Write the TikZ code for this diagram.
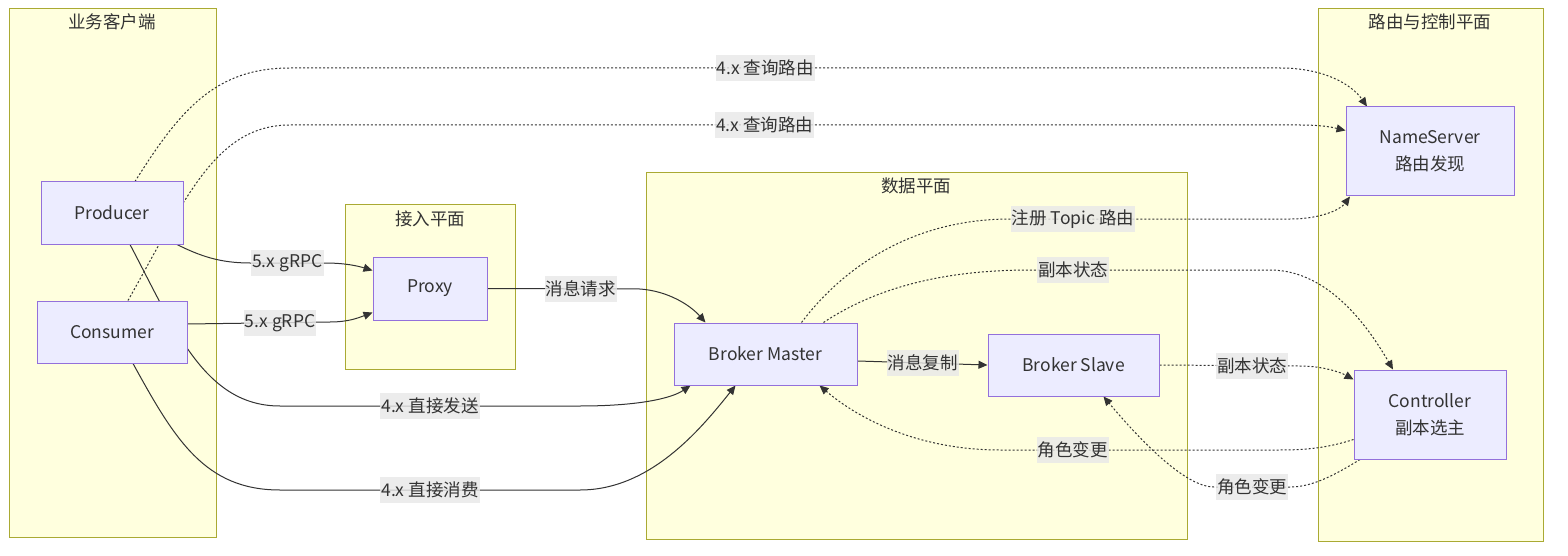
\documentclass[tikz,border=0pt]{standalone}
\usepackage{fontspec}
\setmainfont{Noto Sans CJK SC}
\usepackage{xcolor}
\usepackage{tikz}
\usetikzlibrary{arrows.meta}
\definecolor{clfill}{HTML}{FFFFDE}
\definecolor{clline}{HTML}{AAAA33}
\definecolor{ndfill}{HTML}{ECECFF}
\definecolor{ndline}{HTML}{9370DB}
\definecolor{ink}{HTML}{333333}
\definecolor{lblbg}{HTML}{E8E8E8}
\pgfdeclarelayer{bg}
\pgfdeclarelayer{edges}
\pgfsetlayers{bg,edges,main}

\begin{document}
\begin{tikzpicture}[x=1pt,y=-1pt,
  font=\fontsize{17.5}{27}\selectfont, text=ink,
  cluster/.style={draw=clline,fill=clfill,line width=1pt},
  cltitle/.style={inner sep=0pt},
  box/.style={draw=ndline,fill=ndfill,line width=1pt,align=center,minimum height=62pt,inner sep=0pt},
  link/.style={draw=ink,line width=1pt,-{Triangle[length=9pt,width=8pt]}},
  dotlink/.style={link,dash pattern=on 2pt off 2pt},
  lbl/.style={fill=lblbg,fill opacity=0.8,text opacity=1,inner xsep=1pt,inner ysep=0pt,minimum height=26pt}]
  \useasboundingbox (0,0) rectangle (1568,556);
  % subgraph frames
  \begin{pgfonlayer}{bg}
    \fill[white] (0,0) rectangle (1568,556);
    \draw[cluster] (9,9) rectangle (216,537);
    \draw[cluster] (345,205) rectangle (515,369);
    \draw[cluster] (646,173) rectangle (1187,539);
    \draw[cluster] (1318,9) rectangle (1543,541);
  \end{pgfonlayer}
  \node[cltitle] (clientT) at (112,22) {业务客户端};
  \node[cltitle] (accessT) at (430,219) {接入平面};
  \node[cltitle] (dataT) at (916,186) {数据平面};
  \node[cltitle] (routeT) at (1430,22) {路由与控制平面};
  % components
  \node[box,minimum width=142pt] (prod) at (112,213) {Producer};
  \node[box,minimum width=150pt] (cons) at (112,332) {Consumer};
  \node[box,minimum width=114pt,minimum height=63pt] (proxy) at (430,288.5) {Proxy};
  \node[box,minimum width=183pt] (master) at (765.5,354) {Broker Master};
  \node[box,minimum width=171pt] (slave) at (1073.5,365) {Broker Slave};
  \node[box,minimum width=168pt,minimum height=89pt] (ns) at (1430,151.5) {NameServer\\路由发现};
  \node[box,minimum width=152pt,minimum height=89pt] (ctrl) at (1430,414.5) {Controller\\副本选主};
  \begin{pgfonlayer}{edges}
    % 4.x route lookup
    \draw[dotlink] ([xshift=23pt]prod.north) .. controls (180,110) and (215,68) .. (290,68)
      -- node[lbl,pos=0.48]{4.x 查询路由} (1280,68) .. controls (1325,68) and (1352,85) .. ([xshift=-63pt]ns.north);
    \draw[dotlink] ([xshift=16pt]cons.north) .. controls (185,200) and (215,125) .. (290,125)
      -- node[lbl,pos=0.47]{4.x 查询路由} (1300,125) .. controls (1325,125) and (1335,128) .. ([yshift=21pt]ns.west);
    % 5.x through proxy
    \draw[link] ([xshift=65pt]prod.south) .. controls (200,256) and (220,263) .. (250,263)
      -- node[lbl]{5.x gRPC} (325,263) .. controls (345,263) and (358,266) .. ([yshift=18pt]proxy.west);
    \draw[link] ([yshift=8pt]cons.east) -- node[lbl,pos=0.65]{5.x gRPC} (330,322)
      .. controls (348,322) and (358,318) .. ([yshift=-24pt]proxy.west);
    \draw[link] (proxy.east) -- node[lbl,pos=0.61]{消息请求} (640,289)
      .. controls (668,291) and (690,305) .. ([xshift=-60pt]master.north);
    % 4.x direct
    \draw[link] ([xshift=18pt]prod.south) .. controls (175,330) and (205,406) .. (280,406)
      -- node[lbl]{4.x 直接发送} (580,406) .. controls (640,406) and (672,398) .. ([xshift=-75pt]master.south);
    \draw[link] ([xshift=21pt]cons.south) .. controls (175,440) and (205,490) .. (280,490)
      -- node[lbl]{4.x 直接消费} (580,490) .. controls (650,490) and (700,430) .. ([xshift=-30pt]master.south);
    % replication
    \draw[link] ([yshift=-7pt]master.east) -- node[lbl]{消息复制} (slave.west);
    % register / replica state
    \draw[dotlink] ([xshift=36pt]master.north) .. controls (845,265) and (915,219) .. (1010,219)
      -- node[lbl,pos=0.225]{注册 Topic 路由} (1290,219) .. controls (1320,219) and (1340,210) .. ([xshift=-80pt]ns.south);
    \draw[dotlink] ([xshift=58pt]master.north) .. controls (880,285) and (950,270) .. (1030,270)
      -- node[lbl,pos=0.18]{副本状态} (1270,270) .. controls (1330,270) and (1370,330) .. ([xshift=-37pt]ctrl.north);
    \draw[dotlink] (slave.east) -- node[lbl,pos=0.66]{副本状态} (1300,366)
      .. controls (1322,366) and (1340,372) .. ([yshift=35pt]ctrl.west);
    % role change
    \draw[dotlink] ([yshift=-25pt]ctrl.west) .. controls (1330,447) and (1310,450) .. (1280,450)
      -- node[lbl,pos=0.74]{角色变更} (1000,450) .. controls (920,450) and (860,420) .. ([xshift=54pt]master.south);
    \draw[dotlink] ([xshift=-70pt]ctrl.south) .. controls (1330,478) and (1310,487) .. (1290,487)
      -- node[lbl]{角色变更} (1214,487) .. controls (1185,487) and (1140,440) .. ([xshift=30pt]slave.south);
  \end{pgfonlayer}
\end{tikzpicture}
\end{document}
